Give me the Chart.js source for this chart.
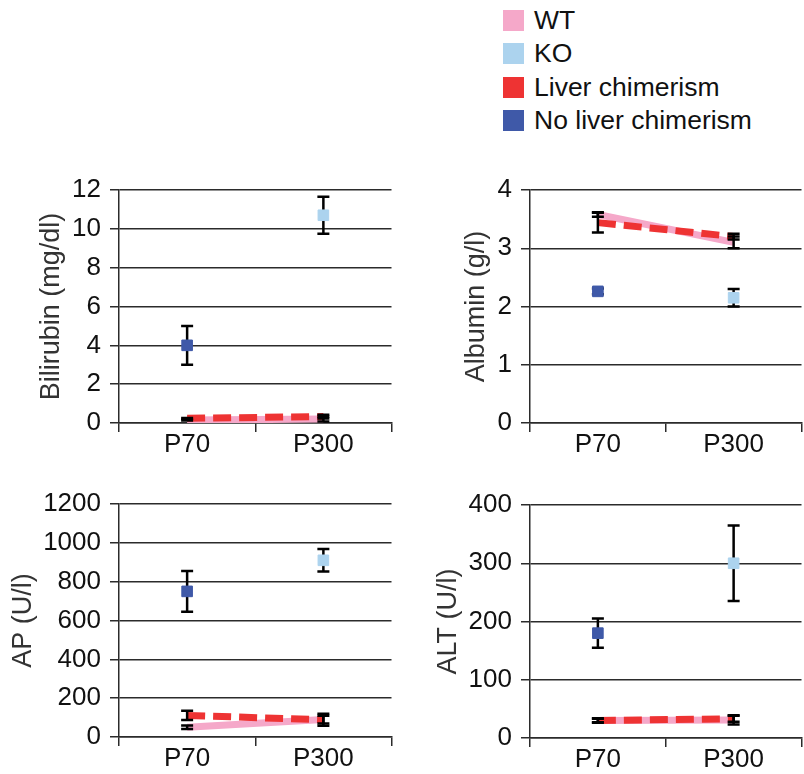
<!DOCTYPE html>
<html>
<head>
<meta charset="utf-8">
<script src="https://cdn.jsdelivr.net/npm/chart.js@4/dist/chart.umd.min.js"></script>
<style>
  html, body { margin: 0; padding: 0; background: #fff; overflow: hidden; }
  body { width: 804px; height: 774px; position: relative; font-family: 'Liberation Sans', Arial, sans-serif; }
  canvas { position: absolute; }
  #legend { position: absolute; left: 503px; top: 10px; }
  .item { position: absolute; left: 0; height: 21px; white-space: nowrap; }
  .swatch { position: absolute; left: 0; top: 0; width: 21px; height: 21px; }
  .label { position: absolute; left: 31px; top: -5px; font-size: 26.5px; line-height: 31px; color: #111; }
</style>
</head>
<body>
<div id="legend"></div>
<canvas id="bili" width="400" height="300" style="left:0px;top:160px"></canvas>
<canvas id="alb" width="410" height="300" style="left:400px;top:160px"></canvas>
<canvas id="ap" width="400" height="299" style="left:0px;top:475px"></canvas>
<canvas id="alt" width="410" height="299" style="left:400px;top:475px"></canvas>
<script>
const timepoints = ['P70', 'P300'];
const groups = ['WT', 'KO', 'Liver chimerism', 'No liver chimerism'];

// Bilirubin (mg/dl)
const biliWT = [0.15, 0.2];
const biliWTErr = [0.02, 0.12];
const biliKO = [null, 10.7];
const biliKOErr = [null, 0.95];
const biliLiver = [0.24, 0.33];
const biliLiverErr = [0.02, 0.1];
const biliNoLiver = [4.0, null];
const biliNoLiverErr = [1.0, null];

// Albumin (g/l)
const albWT = [3.58, 3.1];
const albWTErr = [0.04, 0.1];
const albKO = [null, 2.15];
const albKOErr = [null, 0.15];
const albLiver = [3.44, 3.2];
const albLiverErr = [0.17, 0.05];
const albNoLiver = [2.26, null];
const albNoLiverErr = [0.05, null];

// AP (U/l)
const apWT = [50, 90];
const apWTErr = [9, 20];
const apKO = [null, 910];
const apKOErr = [null, 58];
const apLiver = [111, 89];
const apLiverErr = [24, 31];
const apNoLiver = [750, null];
const apNoLiverErr = [105, null];

// ALT (U/l)
const altWT = [30, 31];
const altWTErr = [3, 8];
const altKO = [null, 300];
const altKOErr = [null, 65];
const altLiver = [30, 33];
const altLiverErr = [4, 5];
const altNoLiver = [180, null];
const altNoLiverErr = [25, null];

const PINK = '#f5a8c9';
const LIGHTBLUE = '#acd3ee';
const RED = '#ee3333';
const BLUE = '#3f59a8';
const colors = [PINK, LIGHTBLUE, RED, BLUE];
const LINE = '#2b2b2b';
const FONT = "'Liberation Sans', Arial, sans-serif";

// legend (html)
const legend = document.getElementById('legend');
groups.forEach((g, i) => {
  const item = document.createElement('div');
  item.className = 'item';
  item.style.top = [0, 33, 67, 100][i] + 'px';
  item.innerHTML = '<div class="swatch" style="background:' + colors[i] + '"></div><div class="label">' + g + '</div>';
  legend.appendChild(item);
});

// error bars go on top of the lines but under the square markers
const errorBars = {
  id: 'errorBars',
  afterDatasetDraw(chart, args) {
    if (args.index !== 2) return;
    const ctx = chart.ctx;
    const xs = chart.scales.x, ys = chart.scales.y;
    ctx.save();
    ctx.strokeStyle = '#000';
    ctx.lineWidth = 2.5;
    chart.data.datasets.forEach(ds => {
      ds.data.forEach((v, j) => {
        const e = ds.errors[j];
        if (v === null || !e) return;
        const x = xs.getPixelForValue(j);
        const y1 = ys.getPixelForValue(v + e);
        const y2 = ys.getPixelForValue(v - e);
        ctx.beginPath();
        ctx.moveTo(x, y1); ctx.lineTo(x, y2);
        ctx.moveTo(x - 6, y1); ctx.lineTo(x + 6, y1);
        ctx.moveTo(x - 6, y2); ctx.lineTo(x + 6, y2);
        ctx.stroke();
      });
    });
    ctx.restore();
  }
};

function buildChart(id, o) {
  const datasets = [
    { label: groups[0], data: o.wt, errors: o.wtErr, borderColor: PINK, borderWidth: 7,
      pointRadius: 0, order: 4 },
    { label: groups[1], data: o.ko, errors: o.koErr, showLine: false, pointStyle: 'rect',
      pointRadius: 7.5, backgroundColor: LIGHTBLUE, borderColor: LIGHTBLUE, borderWidth: 1, order: 2 },
    { label: groups[2], data: o.liver, errors: o.liverErr, borderColor: RED, borderWidth: 7,
      borderDash: [18, 8], pointRadius: 0, order: 3 },
    { label: groups[3], data: o.noLiver, errors: o.noLiverErr, showLine: false, pointStyle: 'rect',
      pointRadius: 7.5, backgroundColor: BLUE, borderColor: BLUE, borderWidth: 1, order: 1 }
  ];
  return new Chart(document.getElementById(id), {
    type: 'line',
    data: { labels: timepoints, datasets },
    plugins: [errorBars],
    options: {
      responsive: false,
      animation: false,
      events: [],
      layout: { padding: { top: o.padTop, right: 2, left: 0, bottom: 0 } },
      plugins: { legend: { display: false }, tooltip: { enabled: false } },
      scales: {
        x: {
          offset: true,
          grid: { offset: true, drawOnChartArea: false, tickLength: 9, color: LINE, lineWidth: 1.5 },
          border: { color: LINE, width: 1.5 },
          ticks: { color: '#111', padding: 0, font: { family: FONT, size: 26, lineHeight: 1 } },
          afterFit: s => { s.height = o.xHeight; }
        },
        y: {
          min: 0, max: o.max,
          grid: { tickLength: 9, color: LINE, lineWidth: 1.5 },
          border: { color: LINE, width: 1.5 },
          ticks: { stepSize: o.step, color: '#111', padding: 9, font: { family: FONT, size: 26 },
            callback: v => String(v) },
          title: { display: true, text: o.title, color: '#333',
            padding: { top: o.titlePad, bottom: 0 },
            font: { family: FONT, size: 27, lineHeight: 1 } },
          afterFit: s => { s.width = o.yWidth; }
        }
      }
    }
  });
}

buildChart('bili', { wt: biliWT, wtErr: biliWTErr, ko: biliKO, koErr: biliKOErr,
  liver: biliLiver, liverErr: biliLiverErr, noLiver: biliNoLiver, noLiverErr: biliNoLiverErr,
  title: 'Bilirubin (mg/dl)', max: 12, step: 2, yWidth: 119, titlePad: 38.5, padTop: 30, xHeight: 37 });

buildChart('alb', { wt: albWT, wtErr: albWTErr, ko: albKO, koErr: albKOErr,
  liver: albLiver, liverErr: albLiverErr, noLiver: albNoLiver, noLiverErr: albNoLiverErr,
  title: 'Albumin (g/l)', max: 4, step: 1, yWidth: 130, titlePad: 63.5, padTop: 30, xHeight: 37 });

buildChart('ap', { wt: apWT, wtErr: apWTErr, ko: apKO, koErr: apKOErr,
  liver: apLiver, liverErr: apLiverErr, noLiver: apNoLiver, noLiverErr: apNoLiverErr,
  title: 'AP (U/l)', max: 1200, step: 200, yWidth: 119, titlePad: 10.5, padTop: 29, xHeight: 37 });

buildChart('alt', { wt: altWT, wtErr: altWTErr, ko: altKO, koErr: altKOErr,
  liver: altLiver, liverErr: altLiverErr, noLiver: altNoLiver, noLiverErr: altNoLiverErr,
  title: 'ALT (U/l)', max: 400, step: 100, yWidth: 130, titlePad: 35.5, padTop: 30, xHeight: 36 });
</script>
</body>
</html>
